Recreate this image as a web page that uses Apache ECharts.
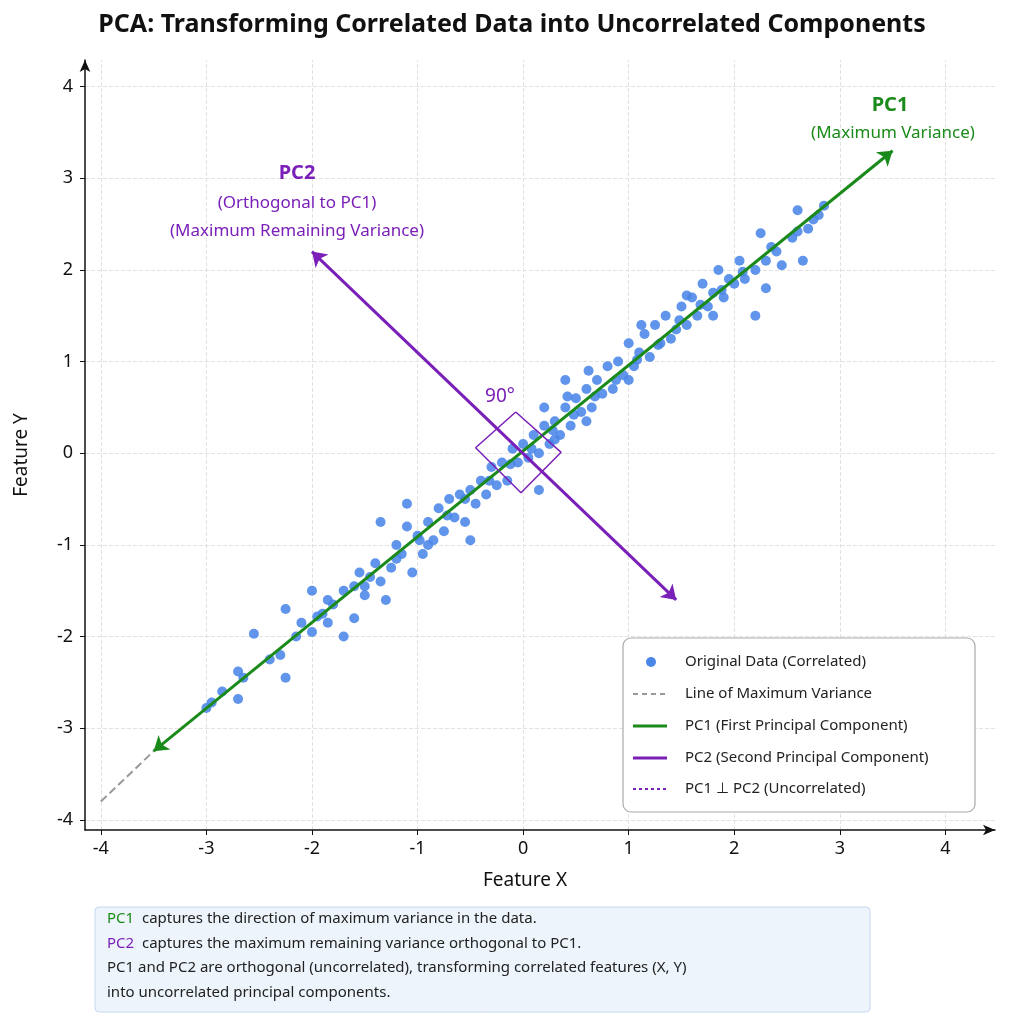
<!DOCTYPE html>
<html><head><meta charset="utf-8">
<script src="https://cdn.jsdelivr.net/npm/echarts@6/dist/echarts.min.js"></script>
<style>html,body{margin:0;background:#fff}#c{width:1024px;height:1024px}</style>
</head><body><div id="c"></div>
<script>
const title = 'PCA: Transforming Correlated Data into Uncorrelated Components';
const ticks = [-4,-3,-2,-1,0,1,2,3,4];
const points = [[-2.95,-2.72],[-3.0,-2.78],[-2.7,-2.38],[-2.7,-2.68],[-2.65,-2.45],[-2.55,-1.97],[-2.25,-1.7],[-2.25,-2.45],[-2.3,-2.2],[-2.15,-2.0],[-2.0,-1.95],[-1.95,-1.78],[-1.85,-1.6],[-1.85,-1.85],[-1.8,-1.65],[-1.7,-1.5],[-1.7,-2.0],[-1.6,-1.45],[-1.6,-1.8],[-1.55,-1.3],[-1.5,-1.55],[-1.4,-1.2],[-1.35,-1.4],[-1.3,-1.6],[-1.25,-1.25],[-1.2,-1.0],[-1.15,-1.1],[-1.1,-0.8],[-1.05,-1.3],[-1.0,-0.9],[-0.95,-1.1],[-0.9,-0.75],[-0.85,-0.95],[-0.8,-0.6],[-0.75,-0.85],[-0.7,-0.5],[-0.65,-0.7],[-0.6,-0.45],[-0.55,-0.75],[-0.5,-0.4],[-0.45,-0.55],[-0.4,-0.3],[-0.35,-0.45],[-0.3,-0.15],[-0.25,-0.35],[-0.2,-0.1],[-0.15,-0.3],[-0.1,0.05],[-0.05,-0.1],[0,0.1],[0.05,-0.05],[0.1,0.2],[0.15,0.0],[0.2,0.3],[0.25,0.1],[0.3,0.35],[0.35,0.2],[0.4,0.5],[0.45,0.3],[0.5,0.6],[0.55,0.45],[0.6,0.7],[0.65,0.5],[0.7,0.8],[0.75,0.65],[0.8,0.95],[0.85,0.7],[0.9,1.0],[0.95,0.85],[1.0,1.2],[1.05,0.95],[1.1,1.1],[1.15,1.3],[1.2,1.05],[1.25,1.4],[1.3,1.2],[1.35,1.5],[1.4,1.25],[1.45,1.35],[1.5,1.6],[1.55,1.4],[1.6,1.7],[1.65,1.5],[1.7,1.85],[1.75,1.6],[1.8,1.75],[1.85,2.0],[1.9,1.7],[1.95,1.9],[2.0,1.85],[2.05,2.1],[2.1,1.9],[2.2,2.0],[2.25,2.4],[2.3,1.8],[2.3,2.1],[2.4,2.2],[2.45,2.05],[2.55,2.35],[2.6,2.65],[2.65,2.1],[2.7,2.45],[2.75,2.55],[2.8,2.6],[2.85,2.7],[-1.35,-0.75],[-1.1,-0.55],[0.4,0.8],[1.0,0.8],[0.15,-0.4],[1.8,1.5],[2.2,1.5],[-0.5,-0.95],[-2.0,-1.5],[0.2,0.5],
[-2.85,-2.6],[-2.4,-2.25],[-2.1,-1.85],[-1.9,-1.75],[-1.45,-1.35],[-1.2,-1.15],[-0.98,-0.95],[-0.72,-0.68],[-0.55,-0.5],[-0.32,-0.3],[-0.12,-0.12],[0.08,0.05],[0.28,0.25],[0.48,0.42],[0.68,0.62],[0.88,0.8],[1.08,1.02],[1.28,1.18],[1.48,1.45],[1.68,1.62],[1.88,1.78],[2.08,1.98],[2.35,2.25],[2.6,2.42],[0.42,0.62],[0.62,0.9],[1.12,1.4],[1.55,1.72],[-0.9,-1.0],[-1.5,-1.45],[0.3,0.15],[0.6,0.35]];
const pc1 = [[-3.5,-3.25],[3.5,3.3]];
const extLine = [[-4,-3.8],[-3.5,-3.25]];
const pc2 = [[-2.0,2.2],[1.45,-1.6]];
const rightAngle = [[-0.07,0.45],[0.36,0.01],[-0.02,-0.43],[-0.45,0.06],[-0.07,0.45]];
const legendNames = ['Original Data (Correlated)','Line of Maximum Variance','PC1 (First Principal Component)','PC2 (Second Principal Component)','PC1 ⊥ PC2 (Uncorrelated)'];
const noteLines = [['PC1','  captures the direction of maximum variance in the data.'],['PC2','  captures the maximum remaining variance orthogonal to PC1.'],['','PC1 and PC2 are orthogonal (uncorrelated), transforming correlated features (X, Y)'],['','into uncorrelated principal components.']];

const GREEN='#1a8a1a', PURPLE='#7a1fb8', BLUE='#4a86e8';
const font='"Noto Sans", sans-serif';
const chart = echarts.init(document.getElementById('c'));
const grid = {left:85,right:29,top:60,bottom:194};
const gridLines = [];
ticks.forEach(t=>{gridLines.push({xAxis:t});gridLines.push({yAxis:t});});
const g = [];
const Z=50;
g.push({type:'text',left:'center',top:12,z:Z,style:{text:title,font:'bold 25px '+font,fill:'#111'}});
g.push({type:'text',x:890,y:105,z:Z,style:{text:'PC1',font:'bold 20px '+font,fill:GREEN,align:'center',verticalAlign:'middle'}});
g.push({type:'text',x:893,y:133,z:Z,style:{text:'(Maximum Variance)',font:'17px '+font,fill:GREEN,align:'center',verticalAlign:'middle'}});
g.push({type:'text',x:297,y:173,z:Z,style:{text:'PC2',font:'bold 20px '+font,fill:PURPLE,align:'center',verticalAlign:'middle'}});
g.push({type:'text',x:297,y:203,z:Z,style:{text:'(Orthogonal to PC1)',font:'17px '+font,fill:PURPLE,align:'center',verticalAlign:'middle'}});
g.push({type:'text',x:297,y:231,z:Z,style:{text:'(Maximum Remaining Variance)',font:'17px '+font,fill:PURPLE,align:'center',verticalAlign:'middle'}});
g.push({type:'text',x:500,y:397,z:Z,style:{text:'90°',font:'19px '+font,fill:PURPLE,align:'center',verticalAlign:'middle'}});
g.push({type:'text',x:525,y:881,z:Z,style:{text:'Feature X',font:'19px '+font,fill:'#111',align:'center',verticalAlign:'middle'}});
g.push({type:'text',x:22,y:455,z:Z,rotation:Math.PI/2,style:{text:'Feature Y',font:'19px '+font,fill:'#111',align:'center',verticalAlign:'middle'}});
// legend
g.push({type:'rect',z:Z,shape:{x:623,y:638,width:352,height:174,r:8},style:{fill:'#fff',stroke:'#aaa',lineWidth:1.2}});
const ly=[662,694,726,758,789];
g.push({type:'circle',z:Z+1,shape:{cx:651,cy:ly[0],r:5},style:{fill:BLUE}});
g.push({type:'line',z:Z+1,shape:{x1:633,y1:ly[1],x2:667,y2:ly[1]},style:{stroke:'#999',lineWidth:2,lineDash:[5,4]}});
g.push({type:'line',z:Z+1,shape:{x1:633,y1:ly[2],x2:667,y2:ly[2]},style:{stroke:GREEN,lineWidth:3}});
g.push({type:'line',z:Z+1,shape:{x1:633,y1:ly[3],x2:667,y2:ly[3]},style:{stroke:PURPLE,lineWidth:3}});
g.push({type:'line',z:Z+1,shape:{x1:633,y1:ly[4],x2:667,y2:ly[4]},style:{stroke:PURPLE,lineWidth:2,lineDash:[3,3]}});
legendNames.forEach((n,i)=>g.push({type:'text',z:Z+1,x:685,y:ly[i],style:{text:n,font:'15px '+font,fill:'#222',verticalAlign:'middle'}}));
// note box
g.push({type:'rect',z:Z,shape:{x:95,y:907,width:775,height:105,r:4},style:{fill:'#eef4fc',stroke:'#c5d8f0',lineWidth:1}});
const ny=[919,944,968,993];
noteLines.forEach((l,i)=>g.push({type:'text',z:Z+1,x:107,y:ny[i],style:{verticalAlign:'middle',rich:{a:{fill:i===0?GREEN:PURPLE,font:'15px '+font},b:{fill:'#222',font:'15px '+font}},text:(l[0]?'{a|'+l[0]+'}':'')+'{b|'+l[1]+'}'}}));

chart.setOption({
  animation:false,
  graphic:g,
  grid:grid,
  xAxis:{type:'value',min:-4.15,max:4.47,splitLine:{show:false},
    axisLine:{onZero:false,lineStyle:{color:'#111',width:1.5},symbol:['none','arrow'],symbolSize:[8,12]},
    axisTick:{customValues:ticks,length:5,lineStyle:{color:'#111'}},
    axisLabel:{customValues:ticks,fontSize:18,color:'#111',fontFamily:font,margin:10}},
  yAxis:{type:'value',min:-4.11,max:4.29,splitLine:{show:false},
    axisLine:{onZero:false,lineStyle:{color:'#111',width:1.5},symbol:['none','arrow'],symbolSize:[8,12]},
    axisTick:{customValues:ticks,length:5,lineStyle:{color:'#111'}},
    axisLabel:{customValues:ticks,fontSize:18,color:'#111',fontFamily:font,margin:12}},
  series:[
    {type:'scatter',data:[],z:0,zlevel:0,
     markLine:{silent:true,symbol:'none',z:0,label:{show:false},lineStyle:{color:'#e2e2e2',type:'dashed',width:1},data:gridLines}},
    {type:'scatter',data:points,symbolSize:10,itemStyle:{color:BLUE,opacity:0.88},z:3},
    {type:'line',data:extLine,showSymbol:false,lineStyle:{color:'#999',type:'dashed',width:2},z:2},
    {type:'lines',coordinateSystem:'cartesian2d',symbol:['arrow','arrow'],symbolSize:14,z:4,
     lineStyle:{color:GREEN,width:3,opacity:1},data:[{coords:pc1}]},
    {type:'lines',coordinateSystem:'cartesian2d',symbol:['arrow','arrow'],symbolSize:14,z:4,
     lineStyle:{color:PURPLE,width:3,opacity:1},data:[{coords:pc2}]},
    {type:'line',data:rightAngle,showSymbol:false,lineStyle:{color:PURPLE,width:1.5},z:5}
  ]
});
</script></body></html>
